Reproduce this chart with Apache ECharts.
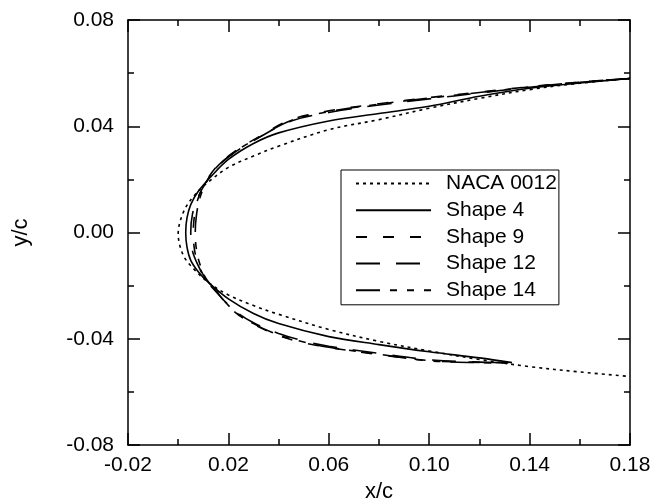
<!DOCTYPE html>
<html>
<head>
<meta charset="utf-8">
<script src="https://cdn.jsdelivr.net/npm/echarts@6/dist/echarts.min.js"></script>
<style>html,body{margin:0;padding:0;background:#fff}#c{width:656px;height:502px}</style>
</head>
<body>
<div id="c"></div>
<script>
// ---- data (x/c, y/c), upper surface from TE -> nose -> lower surface ----
const seriesNames = ['NACA 0012', 'Shape 4', 'Shape 9', 'Shape 12', 'Shape 14'];

const nacaX = [0.18, 0.16, 0.14, 0.12, 0.10, 0.08, 0.06, 0.04, 0.03, 0.02, 0.012, 0.006, 0.002, 0.0,
               0.002, 0.006, 0.012, 0.02, 0.03, 0.04, 0.06, 0.08, 0.10, 0.12, 0.14, 0.16, 0.18];
const nacaY = [0.058, 0.0562, 0.0538, 0.0505, 0.0468, 0.0425, 0.0387, 0.0325, 0.0288, 0.0245, 0.019, 0.0135, 0.0075, -0.0005,
               -0.0085, -0.0135, -0.0188, -0.0235, -0.0275, -0.0308, -0.0365, -0.041, -0.0446, -0.0478, -0.0505, -0.0525, -0.0542];

const shape4X = [0.18, 0.16, 0.14, 0.12, 0.10, 0.08, 0.06, 0.04, 0.03, 0.02, 0.013, 0.008, 0.005, 0.0035, 0.003,
                 0.0035, 0.005, 0.008, 0.012, 0.02, 0.03, 0.04, 0.06, 0.08, 0.10, 0.12, 0.133];
const shape4Y = [0.058, 0.0563, 0.0543, 0.0513, 0.0475, 0.0448, 0.042, 0.0375, 0.0335, 0.0275, 0.021, 0.0155, 0.0105, 0.0055, 0.0,
                 -0.0055, -0.0105, -0.0148, -0.0188, -0.025, -0.0305, -0.0343, -0.0392, -0.0422, -0.0449, -0.0472, -0.049];

const shape9X = [0.18, 0.16, 0.14, 0.12, 0.10, 0.08, 0.06, 0.045, 0.033, 0.022, 0.015, 0.011, 0.008, 0.0065, 0.006,
                 0.0065, 0.008, 0.011, 0.015, 0.022, 0.03, 0.04, 0.05, 0.06, 0.08, 0.10, 0.12, 0.133];
const shape9Y = [0.058, 0.0566, 0.0549, 0.0528, 0.0508, 0.0485, 0.0458, 0.0425, 0.0365, 0.0302, 0.0245, 0.019, 0.013, 0.0065, 0.0,
                 -0.0065, -0.012, -0.0175, -0.022, -0.0295, -0.0345, -0.0388, -0.0415, -0.0433, -0.046, -0.0482, -0.0489, -0.049];

const shape12X = [0.18, 0.16, 0.14, 0.12, 0.10, 0.08, 0.06, 0.045, 0.033, 0.022, 0.015, 0.011, 0.008, 0.0057, 0.005,
                  0.0057, 0.008, 0.011, 0.015, 0.022, 0.03, 0.04, 0.05, 0.06, 0.08, 0.10, 0.12, 0.133];
const shape12Y = [0.058, 0.0565, 0.0547, 0.0525, 0.0503, 0.048, 0.0452, 0.042, 0.0362, 0.0298, 0.0242, 0.0188, 0.0135, 0.007, 0.0,
                  -0.007, -0.0125, -0.0178, -0.0222, -0.029, -0.034, -0.038, -0.0408, -0.0428, -0.0455, -0.0479, -0.0488, -0.049];

const shape14X = [0.18, 0.16, 0.14, 0.12, 0.10, 0.08, 0.06, 0.045, 0.033, 0.022, 0.015, 0.011, 0.0085, 0.0072, 0.0068,
                  0.0072, 0.0085, 0.011, 0.015, 0.022, 0.03, 0.04, 0.05, 0.06, 0.08, 0.10, 0.12, 0.133];
const shape14Y = [0.058, 0.0566, 0.0548, 0.0527, 0.0506, 0.0483, 0.0455, 0.0422, 0.0363, 0.03, 0.0243, 0.0185, 0.0125, 0.006, 0.0,
                  -0.006, -0.0115, -0.0172, -0.0218, -0.0293, -0.0343, -0.0386, -0.0412, -0.0432, -0.0458, -0.0483, -0.049, -0.0491];

const xTickLabels = ['-0.02', '0.02', '0.06', '0.10', '0.14', '0.18'];
const yTickLabels = ['-0.08', '-0.04', '0.00', '0.04', '0.08'];

// ---- chart ----
const xs = [nacaX, shape4X, shape9X, shape12X, shape14X];
const ys = [nacaY, shape4Y, shape9Y, shape12Y, shape14Y];
const dashes = [[3, 4], 'solid', [11, 16], [24, 16], [24, 10, 7, 10, 7, 10]];
const FONT = 'Liberation Sans, Arial, sans-serif';

function zip(a, b) { return a.map((v, i) => [v, b[i]]); }

const series = seriesNames.map((name, i) => ({
  name: name,
  type: 'line',
  xAxisIndex: 0,
  yAxisIndex: 0,
  symbol: 'none',
  smooth: 0.35,
  data: zip(xs[i], ys[i]),
  lineStyle: { color: '#000', width: 1.6, type: dashes[i] },
  itemStyle: { color: '#000' },
  emphasis: { disabled: true }
}));

function fmtX(v) {
  const s = v.toFixed(2);
  return xTickLabels.indexOf(s) >= 0 ? s : '';
}
function fmtY(v) {
  let s = v.toFixed(2);
  if (s === '-0.00') s = '0.00';
  return yTickLabels.indexOf(s) >= 0 ? s : '';
}

const axisLineStyle = { color: '#000', width: 1.5 };
const labelStyle = { color: '#000', fontSize: 21, fontFamily: FONT };

const chart = echarts.init(document.getElementById('c'), null, { renderer: 'canvas' });
chart.setOption({
  animation: false,
  backgroundColor: '#fff',
  grid: { left: 128, right: 26, top: 20, bottom: 57, containLabel: false, outerBoundsMode: 'none' },
  legend: {
    show: true,
    orient: 'vertical',
    left: 341,
    top: 170,
    data: seriesNames,
    itemWidth: 75,
    itemHeight: 21,
    itemGap: 5.7,
    padding: [3, 2, 4, 14],
    borderColor: '#000',
    borderWidth: 1,
    backgroundColor: '#fff',
    selectedMode: false,
    itemStyle: { opacity: 0, color: 'transparent', borderWidth: 0 },
    textStyle: { color: '#000', fontSize: 21, fontFamily: FONT, padding: [0, 0, 0, 10], lineHeight: 21 }
  },
  xAxis: [
    {
      type: 'value', min: -0.02, max: 0.18, interval: 0.04, position: 'bottom',
      axisLine: { show: true, onZero: false, lineStyle: axisLineStyle },
      axisTick: { show: true, inside: true, length: 12, lineStyle: axisLineStyle },
      minorTick: { show: true, splitNumber: 2, length: 6, lineStyle: { color: '#000', width: 1.5 } },
      splitLine: { show: false },
      axisLabel: Object.assign({ margin: 10, formatter: fmtX }, labelStyle),
      name: 'x/c', nameLocation: 'middle', nameGap: 33,
      nameTextStyle: { color: '#000', fontSize: 22, fontFamily: FONT }
    },
    {
      type: 'value', min: -0.02, max: 0.18, interval: 0.04, position: 'top',
      axisLine: { show: true, onZero: false, lineStyle: axisLineStyle },
      axisTick: { show: true, inside: true, length: 12, lineStyle: axisLineStyle },
      minorTick: { show: true, splitNumber: 2, length: 6, lineStyle: { color: '#000', width: 1.5 } },
      splitLine: { show: false },
      axisLabel: { show: false }
    }
  ],
  yAxis: [
    {
      type: 'value', min: -0.08, max: 0.08, interval: 0.04, position: 'left',
      axisLine: { show: true, onZero: false, lineStyle: axisLineStyle },
      axisTick: { show: true, inside: true, length: 12, lineStyle: axisLineStyle },
      minorTick: { show: true, splitNumber: 2, length: 6, lineStyle: { color: '#000', width: 1.5 } },
      splitLine: { show: false },
      axisLabel: Object.assign({ margin: 14, formatter: fmtY }, labelStyle),
      name: 'y/c', nameLocation: 'middle', nameGap: 96, nameRotate: 90,
      nameTextStyle: { color: '#000', fontSize: 22, fontFamily: FONT }
    },
    {
      type: 'value', min: -0.08, max: 0.08, interval: 0.04, position: 'right',
      axisLine: { show: true, onZero: false, lineStyle: axisLineStyle },
      axisTick: { show: true, inside: true, length: 12, lineStyle: axisLineStyle },
      minorTick: { show: true, splitNumber: 2, length: 6, lineStyle: { color: '#000', width: 1.5 } },
      splitLine: { show: false },
      axisLabel: { show: false }
    }
  ],
  series: series
});
</script>
</body>
</html>
